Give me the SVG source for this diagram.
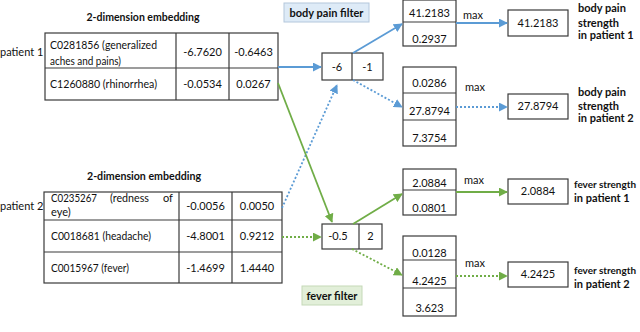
<svg xmlns="http://www.w3.org/2000/svg" width="640" height="332" viewBox="0 0 640 332">
<style>
text{font-family:Lato,"Open Sans","Liberation Sans",sans-serif;font-size:11px;fill:#111}
.b{font-weight:bold}
.m{text-anchor:middle}
.fs{font-size:10px}
.cell{fill:#fff;stroke:#3a3a3a;stroke-width:1.2}
.ln{stroke:#3a3a3a;stroke-width:1.2}
.blue{stroke:#5b9bd5;stroke-width:1.8;fill:none}
.green{stroke:#70ad47;stroke-width:1.8;fill:none}
.dot{stroke-dasharray:2 2}
</style>
<defs>
<marker id="ab" viewBox="0 0 10 10" refX="9" refY="5" markerWidth="5" markerHeight="5" orient="auto"><path d="M0,0 L10,5 L0,10 z" fill="#5b9bd5"/></marker>
<marker id="ag" viewBox="0 0 10 10" refX="9" refY="5" markerWidth="5" markerHeight="5" orient="auto"><path d="M0,0 L10,5 L0,10 z" fill="#70ad47"/></marker>
</defs>
<rect width="640" height="332" fill="#fff"/>

<g id="embedding1">
<text class="b m" x="143" y="21" textLength="113" lengthAdjust="spacingAndGlyphs">2-dimension embedding</text>
<text x="0" y="56">patient 1</text>
<rect class="cell" x="45" y="33" width="233" height="67"/>
<line class="ln" x1="45" y1="68" x2="278" y2="68"/>
<line class="ln" x1="176" y1="33" x2="176" y2="100"/>
<line class="ln" x1="229" y1="33" x2="229" y2="100"/>
<text x="50" y="49" textLength="107" lengthAdjust="spacingAndGlyphs">C0281856 (generalized</text>
<text x="50" y="65" textLength="71" lengthAdjust="spacingAndGlyphs">aches and pains)</text>
<text x="50" y="88" textLength="107" lengthAdjust="spacingAndGlyphs">C1260880 (rhinorrhea)</text>
<text class="m" x="202.5" y="56">-6.7620</text>
<text class="m" x="253.5" y="56">-0.6463</text>
<text class="m" x="202.5" y="88">-0.0534</text>
<text class="m" x="253.5" y="88">0.0267</text>
</g>

<g id="embedding2">
<text class="b m" x="144" y="180" textLength="114" lengthAdjust="spacingAndGlyphs">2-dimension embedding</text>
<text x="0" y="210">patient 2</text>
<rect class="cell" x="44" y="192" width="238" height="91"/>
<line class="ln" x1="44" y1="220" x2="282" y2="220"/>
<line class="ln" x1="44" y1="252" x2="282" y2="252"/>
<line class="ln" x1="179" y1="192" x2="179" y2="283"/>
<line class="ln" x1="232" y1="192" x2="232" y2="283"/>
<text x="51" y="202" textLength="46" lengthAdjust="spacingAndGlyphs">C0235267</text>
<text x="110" y="202" textLength="39" lengthAdjust="spacingAndGlyphs">(redness</text>
<text x="163" y="202">of</text>
<text x="51" y="216">eye)</text>
<text x="51" y="240" textLength="100" lengthAdjust="spacingAndGlyphs">C0018681 (headache)</text>
<text x="51" y="272" textLength="78" lengthAdjust="spacingAndGlyphs">C0015967 (fever)</text>
<text class="m" x="205.5" y="210">-0.0056</text>
<text class="m" x="257" y="210">0.0050</text>
<text class="m" x="205.5" y="240">-4.8001</text>
<text class="m" x="257" y="240">0.9212</text>
<text class="m" x="205.5" y="272">-1.4699</text>
<text class="m" x="257" y="272">1.4440</text>
</g>

<g id="bodyPainFilterLabel">
<rect x="284" y="3" width="85" height="19" fill="#deebf7" stroke="#b4c7dc" stroke-width="1"/>
<text class="b m" x="326.5" y="17">body pain filter</text>
</g>

<g id="bodyPainFilter">
<rect class="cell" x="322" y="53" width="61" height="27"/>
<line class="ln" x1="352" y1="53" x2="352" y2="80"/>
<text class="m" x="337" y="71">-6</text>
<text class="m" x="367.5" y="71">-1</text>
</g>

<g id="feverFilterLabel">
<rect x="302" y="286" width="60" height="19" fill="#e2efd9" stroke="#c5d9b8" stroke-width="1"/>
<text class="b m" x="332" y="300">fever filter</text>
</g>

<g id="feverFilter">
<rect class="cell" x="322" y="224" width="60" height="25"/>
<line class="ln" x1="359" y1="224" x2="359" y2="249"/>
<text class="m" x="338" y="240">-0.5</text>
<text class="m" x="370.5" y="240">2</text>
</g>

<g id="conv1">
<rect class="cell" x="403" y="0" width="53" height="46"/>
<line class="ln" x1="403" y1="22" x2="456" y2="22"/>
<text class="m" x="429.5" y="17">41.2183</text>
<text class="m" x="429.5" y="43">0.2937</text>
</g>

<g id="conv2">
<rect class="cell" x="403" y="67" width="53" height="79"/>
<line class="ln" x1="403" y1="93" x2="456" y2="93"/>
<line class="ln" x1="403" y1="120" x2="456" y2="120"/>
<text class="m" x="429.5" y="87">0.0286</text>
<text class="m" x="429.5" y="115">27.8794</text>
<text class="m" x="429.5" y="142">7.3754</text>
</g>

<g id="conv3">
<rect class="cell" x="403" y="169" width="53" height="46"/>
<line class="ln" x1="403" y1="190" x2="456" y2="190"/>
<text class="m" x="429.5" y="187">2.0884</text>
<text class="m" x="429.5" y="212">0.0801</text>
</g>

<g id="conv4">
<rect class="cell" x="403" y="236" width="53" height="80"/>
<line class="ln" x1="403" y1="260" x2="456" y2="260"/>
<line class="ln" x1="403" y1="288" x2="456" y2="288"/>
<text class="m" x="429.5" y="257">0.0128</text>
<text class="m" x="429.5" y="285">4.2425</text>
<text class="m" x="429.5" y="312">3.623</text>
</g>

<g id="out1">
<rect class="cell" x="508" y="10" width="60" height="26"/>
<text class="m" x="538" y="27">41.2183</text>
<text class="b" x="578" y="12">body pain</text>
<text class="b" x="578" y="27">strength</text>
<text class="b" x="578" y="39">in patient 1</text>
</g>

<g id="out2">
<rect class="cell" x="508" y="94" width="60" height="25"/>
<text class="m" x="538" y="110">27.8794</text>
<text class="b" x="578" y="96">body pain</text>
<text class="b" x="578" y="110">strength</text>
<text class="b" x="578" y="122">in patient 2</text>
</g>

<g id="out3">
<rect class="cell" x="508" y="179" width="60" height="25"/>
<text class="m" x="538" y="195">2.0884</text>
<text class="b fs" x="574" y="188" textLength="62" lengthAdjust="spacingAndGlyphs">fever strength</text>
<text class="b" x="574" y="202">in patient 1</text>
</g>

<g id="out4">
<rect class="cell" x="508" y="262" width="60" height="25"/>
<text class="m" x="538" y="278">4.2425</text>
<text class="b fs" x="574" y="274" textLength="62" lengthAdjust="spacingAndGlyphs">fever strength</text>
<text class="b" x="574" y="288">in patient 2</text>
</g>

<g id="connectors">
<path class="blue" d="M278,67 L321,67" marker-end="url(#ab)"/>
<path class="blue" d="M353,53 L402,24" marker-end="url(#ab)"/>
<path class="blue dot" d="M353,80 L402,107" marker-end="url(#ab)"/>
<path class="blue dot" d="M282,208 L337,85" marker-end="url(#ab)"/>
<path class="green" d="M278,83 L332,222" marker-end="url(#ag)"/>
<path class="green dot" d="M282,237 L321,237" marker-end="url(#ag)"/>
<path class="green" d="M353,224 L402,194" marker-end="url(#ag)"/>
<path class="green dot" d="M352,249 L402,275" marker-end="url(#ag)"/>
<path class="blue" d="M456,23 L507,23" marker-end="url(#ab)"/>
<path class="blue dot" d="M456,107 L507,107" marker-end="url(#ab)"/>
<path class="green" d="M456,192 L507,192" marker-end="url(#ag)"/>
<path class="green dot" d="M456,276 L507,276" marker-end="url(#ag)"/>
<text x="463" y="19">max</text>
<text x="465" y="91">max</text>
<text x="464" y="184">max</text>
<text x="465" y="267">max</text>
</g>
</svg>
